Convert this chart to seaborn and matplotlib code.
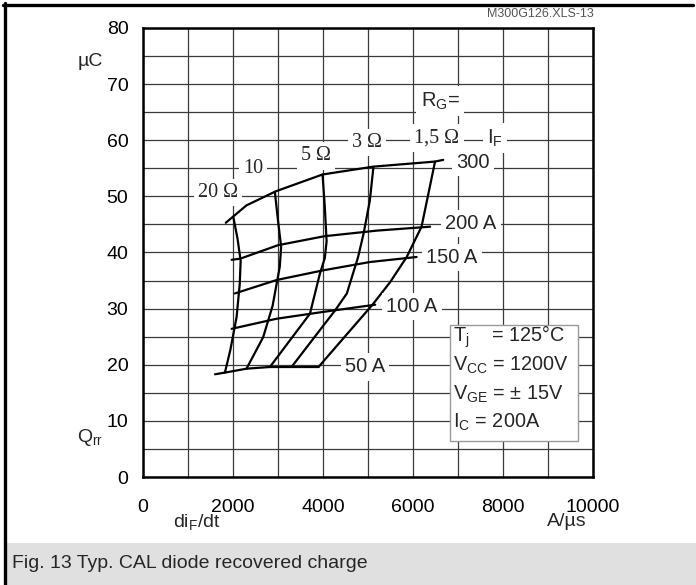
import matplotlib
matplotlib.use("Agg")
import matplotlib.pyplot as plt
import seaborn as sns
import pandas as pd
from matplotlib.patches import Rectangle
from matplotlib.lines import Line2D

sns.set_theme(style="white")
plt.rcParams['font.family'] = ['Liberation Sans', 'DejaVu Sans']
plt.rcParams['mathtext.fontset'] = 'custom'
plt.rcParams['mathtext.rm'] = 'Liberation Sans'
plt.rcParams['mathtext.it'] = 'Liberation Sans:italic'

# ---- data ----
# constant-I_F curves
if300_x = [1840, 2300, 2950, 3990, 5120, 6490, 6670]
if300_y = [45.3, 48.4, 50.9, 53.9, 55.3, 56.2, 56.5]
if200_x = [1970, 2160, 3000, 4030, 5200, 6380]
if200_y = [38.7, 38.9, 41.3, 42.9, 43.9, 44.6]
if150_x = [2040, 2970, 3990, 5040, 6080]
if150_y = [32.7, 35.1, 36.8, 38.3, 39.2]
if100_x = [1970, 2970, 3990, 5160]
if100_y = [26.4, 28.2, 29.4, 30.7]
if50_x = [1600, 1820, 2300, 2820, 3300, 3900]
if50_y = [18.3, 18.6, 19.3, 19.6, 19.6, 19.6]

# constant-R_G curves
rg20_x = [2010, 2100, 2170, 2150, 2080, 1940, 1820]
rg20_y = [46.2, 42.5, 38.5, 34.4, 28.5, 22.6, 18.6]
rg10_x = [2930, 3000, 3070, 3040, 2960, 2880, 2670, 2300]
rg10_y = [50.8, 45.7, 41.0, 37.5, 34.0, 30.5, 24.9, 19.3]
rg5_x = [3990, 4040, 4080, 4040, 3930, 3710, 2820]
rg5_y = [53.9, 48.1, 42.0, 39.0, 36.2, 29.1, 19.6]
rg3_x = [5120, 5040, 4900, 4780, 4530, 4270, 3300]
rg3_y = [55.2, 49.2, 43.3, 39.2, 32.7, 29.7, 19.6]
rg15_x = [6490, 6340, 6190, 5860, 5490, 5100, 3900]
rg15_y = [56.2, 50.4, 44.6, 39.2, 34.7, 30.7, 19.6]

curves = {
    "300": (if300_x, if300_y), "200": (if200_x, if200_y), "150": (if150_x, if150_y),
    "100": (if100_x, if100_y), "50": (if50_x, if50_y),
    "20R": (rg20_x, rg20_y), "10R": (rg10_x, rg10_y), "5R": (rg5_x, rg5_y),
    "3R": (rg3_x, rg3_y), "1.5R": (rg15_x, rg15_y),
}

x_ticks = [0, 2000, 4000, 6000, 8000, 10000]
y_ticks = [0, 10, 20, 30, 40, 50, 60, 70, 80]

# curve labels: text, x, y, serif?
labels = [
    ("20 Ω", 1667, 50.7, True), ("10", 2444, 54.9, True), ("5 Ω", 3844, 57.2, True),
    ("3 Ω", 4978, 59.6, True), ("1,5 Ω", 6533, 60.4, True),
    (r"R$_\mathregular{G}$=", 6600, 67.0, False), (r"I$_\mathregular{F}$", 7822, 60.4, False),
    ("300", 7333, 56.0, False), ("200 A", 7289, 45.2, False), ("150 A", 6867, 39.1, False),
    ("100 A", 5978, 30.4, False), ("50 A", 4933, 19.6, False),
]
cond_lines = [r"T$_\mathregular{j}$    = 125°C", r"V$_\mathregular{CC}$ = 1200V",
              r"V$_\mathregular{GE}$ = ± 15V", r"I$_\mathregular{C}$ = 200A"]
cond_y = [25.0, 19.9, 14.8, 9.8]

FS = 14
W, H = 696, 585
fig = plt.figure(figsize=(W / 100, H / 100), dpi=100)
def fx(p): return p / W
def fy(q): return 1 - q / H

ax = fig.add_axes([fx(143), fy(477), (593 - 143) / W, (477 - 28) / H])

for name, (xs, ys) in curves.items():
    df = pd.DataFrame({"x": xs, "y": ys})
    sns.lineplot(data=df, x="x", y="y", sort=False, estimator=None, color="black",
                 lw=1.6, ax=ax, zorder=3)

ax.set_xlim(0, 10000)
ax.set_ylim(0, 80)
ax.set_xticks(x_ticks)
ax.set_yticks(y_ticks)
ax.set_xticks(range(0, 10001, 1000), minor=True)
ax.set_yticks(range(0, 81, 5), minor=True)
ax.grid(which="both", color="#3a3a3a", lw=0.9, zorder=0)
ax.set_axisbelow(True)
ax.tick_params(which="both", length=0)
ax.tick_params(axis="x", pad=16, labelsize=FS, labelcolor="black")
ax.tick_params(axis="y", pad=10.5, labelsize=FS, labelcolor="black")
ax.set_xlabel("")
ax.set_ylabel("")
for s in ax.spines.values():
    s.set_color("black")
    s.set_linewidth(1.8)
    s.set_visible(True)

for txt, x, y, serif in labels:
    kw = dict(ha="center", va="center", zorder=4,
              bbox=dict(facecolor="white", edgecolor="none", pad=3))
    if serif:
        ax.text(x, y, txt, fontsize=14.5, family=["Liberation Serif", "DejaVu Serif"], **kw)
    else:
        ax.text(x, y, txt, fontsize=14.5, **kw)

ax.add_patch(Rectangle((6822, 6.4), 9667 - 6822, 27.0 - 6.4, facecolor="white",
                       edgecolor="#9a9a9a", lw=1.0, zorder=4))
for t, y in zip(cond_lines, cond_y):
    ax.text(6889, y, t, ha="left", va="center", fontsize=14.3, zorder=5)

# axis labels & annotations
fig.text(fx(90), fy(62), "µC", ha="center", va="center", fontsize=FS)
fig.text(fx(90), fy(438), r"Q$_\mathregular{rr}$", ha="center", va="center", fontsize=FS)
fig.text(fx(197), fy(522), r"di$_\mathregular{F}$/dt", ha="center", va="center", fontsize=FS)
fig.text(fx(567), fy(522), "A/µs", ha="center", va="center", fontsize=FS)
fig.text(fx(594), fy(14), "M300G126.XLS-13", ha="right", va="center", fontsize=9, color="#555555")

# caption band and frame
fig.patches.append(Rectangle((fx(5), 0), 1, (H - 543) / H, transform=fig.transFigure,
                             facecolor="#e0e0e0", edgecolor="none", zorder=0))
fig.text(fx(12), fy(563), "Fig. 13 Typ. CAL diode recovered charge", ha="left", va="center",
         fontsize=FS)
fig.lines.append(Line2D([fx(3), fx(693)], [fy(4.5), fy(4.5)], transform=fig.transFigure,
                        color="black", lw=2.4))
fig.lines.append(Line2D([fx(4.5), fx(4.5)], [fy(3), 0], transform=fig.transFigure,
                        color="black", lw=2.4))

fig.savefig("out.png", dpi=100)
